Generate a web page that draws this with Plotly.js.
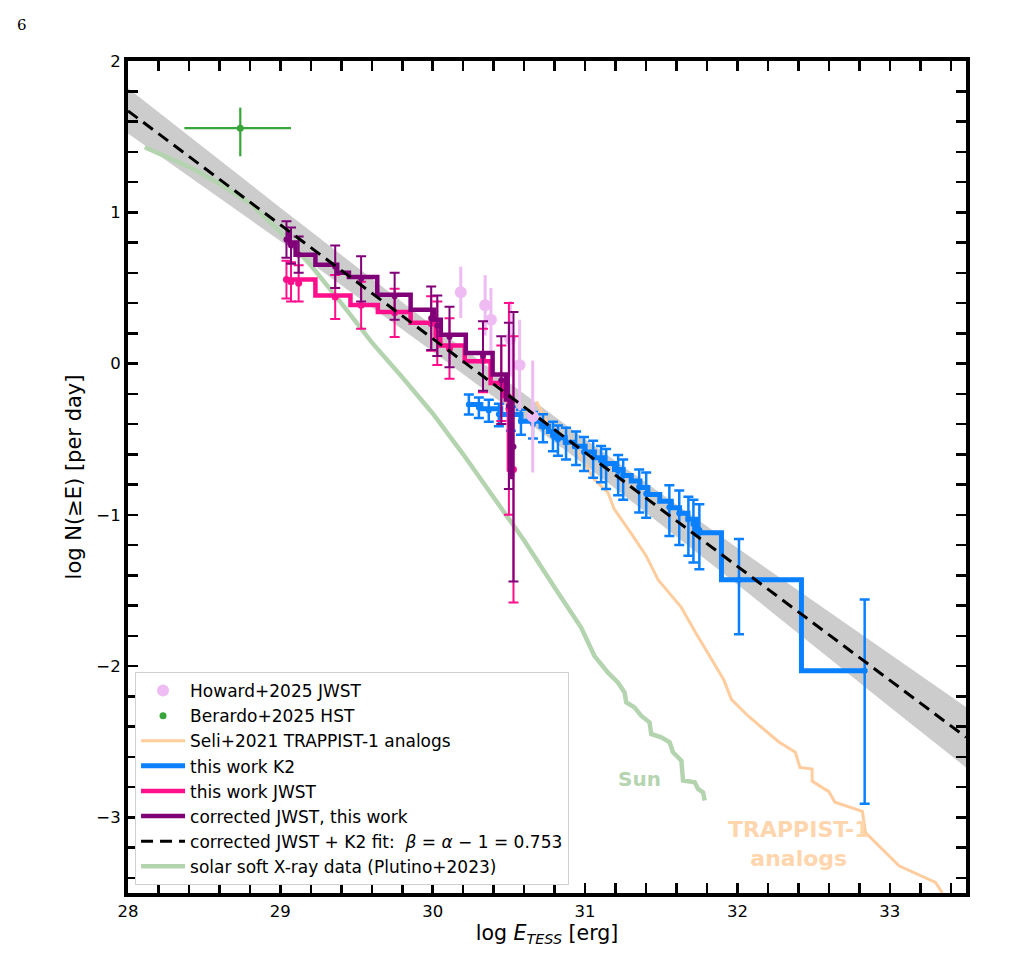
<!DOCTYPE html>
<html>
<head>
<meta charset="utf-8">
<script src="https://cdn.plot.ly/plotly-3.0.1.min.js"></script>
<style>
  html, body { margin: 0; padding: 0; background: #ffffff; }
  #chart { width: 1011px; height: 977px; }
</style>
</head>
<body>
<div id="chart"></div>
<script>
// ---------------- data ----------------
// fit band (corrected JWST + K2 fit uncertainty)
const band_x  = [28, 29, 30, 31, 32, 33, 33.5];
const band_hi = [1.82, 1.03, 0.25, -0.50, -1.22, -1.92, -2.27];
const band_lo = [1.52, 0.81, 0.08, -0.67, -1.46, -2.27, -2.67];

// fit line
const fit_x = [28, 33.5];
const fit_y = [1.67, -2.47];

// solar soft X-ray data (Plutino+2023)
const sun_x = [28.11, 28.25, 28.4, 28.6, 28.8, 29.0, 29.2, 29.4, 29.6, 29.8, 30.0, 30.2, 30.4, 30.6, 30.8,
               30.974, 31.061, 31.149, 31.215, 31.259, 31.27, 31.324, 31.368, 31.423, 31.434, 31.5, 31.555,
               31.577, 31.632, 31.643, 31.72, 31.741, 31.774, 31.785];
const sun_y = [1.43, 1.37, 1.30, 1.19, 1.06, 0.87, 0.65, 0.40, 0.14, -0.09, -0.33, -0.60, -0.88, -1.17, -1.48,
               -1.745, -1.932, -2.042, -2.108, -2.174, -2.24, -2.273, -2.328, -2.372, -2.449, -2.471, -2.504,
               -2.57, -2.625, -2.757, -2.768, -2.812, -2.834, -2.889];

// Seli+2021 TRAPPIST-1 analogs
const seli_x = [30.68, 30.755, 30.93, 31.06, 31.15, 31.18, 31.19, 31.30, 31.40, 31.48, 31.63, 31.72, 31.91, 31.96,
                32.07, 32.27, 32.38, 32.41, 32.49, 32.49, 32.60, 32.64, 32.82, 32.84, 33.06, 33.30, 33.345];
const seli_y = [-0.25, -0.40, -0.546, -0.766, -0.853, -0.93, -0.96, -1.12, -1.27, -1.43, -1.61, -1.77, -2.09, -2.22,
                -2.33, -2.50, -2.57, -2.67, -2.68, -2.76, -2.83, -2.90, -2.96, -3.10, -3.32, -3.43, -3.5];

// this work K2 (points with asymmetric errors)
const k2_x = [30.237, 30.303, 30.368, 30.434, 30.513, 30.579, 30.658, 30.724, 30.789, 30.822, 30.875, 30.941, 30.993,
              31.053, 31.105, 31.138, 31.217, 31.25, 31.355, 31.401, 31.553, 31.618, 31.678, 31.711, 31.75, 32.01, 32.835];
const k2_y = [-0.27, -0.29, -0.31, -0.335, -0.36, -0.38, -0.40, -0.42, -0.475, -0.50, -0.52, -0.55, -0.585,
              -0.62, -0.645, -0.665, -0.71, -0.74, -0.815, -0.86, -0.95, -0.99, -1.03, -1.06, -1.10, -1.43, -2.03];
const k2_err_plus  = [0.065, 0.065, 0.07, 0.07, 0.075, 0.075, 0.08, 0.085, 0.09, 0.09, 0.095, 0.10, 0.10,
                      0.11, 0.10, 0.10, 0.105, 0.106, 0.115, 0.14, 0.145, 0.15, 0.15, 0.16, 0.17, 0.27, 0.47];
const k2_err_minus = [0.067, 0.07, 0.075, 0.08, 0.085, 0.09, 0.095, 0.10, 0.105, 0.11, 0.115, 0.12, 0.125,
                      0.135, 0.14, 0.165, 0.16, 0.16, 0.17, 0.16, 0.19, 0.21, 0.24, 0.256, 0.26, 0.36, 0.88];
// this work K2 (cumulative step histogram)
const k2_step_x = [30.237, 30.316, 30.447, 30.579, 30.711, 30.76, 30.809, 30.87, 30.93, 31.00, 31.061, 31.13, 31.193,
                   31.25, 31.303, 31.36, 31.412, 31.49, 31.566, 31.62, 31.675, 31.73, 31.895, 32.42, 32.835];
const k2_step_y = [-0.271, -0.299, -0.337, -0.381, -0.414, -0.45, -0.49, -0.52, -0.546, -0.585, -0.622, -0.66, -0.70,
                   -0.74, -0.777, -0.82, -0.865, -0.91, -0.953, -0.99, -1.03, -1.118, -1.43, -2.03, -2.03];

// this work JWST
const jwst_x   = [29.04, 29.07, 29.12, 29.36, 29.53, 29.75, 29.99, 30.03, 30.11, 30.33, 30.45, 30.50, 30.53];
const jwst_y   = [0.555, 0.54, 0.53, 0.44, 0.385, 0.335, 0.265, 0.20, 0.10, 0.02, -0.13, -0.30, -0.70];
const jwst_err = [0.125, 0.13, 0.12, 0.145, 0.155, 0.16, 0.18, 0.21, 0.20, 0.21, 0.25, 0.70, 0.88];
const jwst_step_x = [29.04, 29.23, 29.46, 29.64, 29.855, 30.02, 30.05, 30.21, 30.38, 30.47, 30.50, 30.53];
const jwst_step_y = [0.555, 0.449, 0.387, 0.341, 0.269, 0.18, 0.119, 0.015, -0.128, -0.215, -0.70, -0.70];

// corrected JWST, this work
const jwst_corr_y   = [0.82, 0.78, 0.72, 0.64, 0.56, 0.445, 0.30, 0.25, 0.175, 0.05, -0.11, -0.28, -0.55];
const jwst_corr_err = [0.12, 0.12, 0.12, 0.14, 0.15, 0.155, 0.21, 0.20, 0.20, 0.23, 0.29, 0.55, 0.89];
const jwst_corr_step_x = [29.04, 29.06, 29.10, 29.23, 29.373, 29.45, 29.636, 29.855, 30.009, 30.053, 30.217, 30.393, 30.48, 30.52, 30.53];
const jwst_corr_step_y = [0.86, 0.80, 0.72, 0.653, 0.60, 0.572, 0.455, 0.356, 0.29, 0.191, 0.07, -0.073, -0.238, -0.75, -0.75];

// Howard+2025 JWST
const howard_x   = [30.184, 30.344, 30.382, 30.509, 30.57, 30.656];
const howard_y   = [0.471, 0.385, 0.29, 0.163, -0.01, -0.35];
const howard_err = [0.17, 0.20, 0.21, 0.25, 0.30, 0.37];

// Berardo+2025 HST
const berardo_x = [28.737];
const berardo_y = [1.556];
const berardo_xerr_plus = [0.333], berardo_xerr_minus = [0.367];
const berardo_yerr_plus = [0.136], berardo_yerr_minus = [0.186];

// labels
const legend_names = {
  howard: 'Howard+2025 JWST',
  berardo: 'Berardo+2025 HST',
  seli: 'Seli+2021 TRAPPIST-1 analogs',
  k2: 'this work K2',
  jwst: 'this work JWST',
  corr: 'corrected JWST, this work',
  fit: 'corrected JWST + K2 fit:  <i>β</i> = <i>α</i> − 1 = 0.753',
  sun: 'solar soft X-ray data (Plutino+2023)'
};

// ---------------- colours ----------------
const C_BLUE = '#0a80ff', C_PINK = '#ff0f8c', C_PURPLE = '#800078', C_HOWARD = '#eebcf2',
      C_GREEN = '#38a53a', C_SELI = '#ffcc9e', C_SUN = '#b4d4b0', C_BAND = '#cccccc';

const FONT = 'DejaVu Sans, Verdana, sans-serif';

const traces = [
  { // band
    x: band_x.concat(band_x.slice().reverse()),
    y: band_hi.concat(band_lo.slice().reverse()),
    fill: 'toself', fillcolor: C_BAND, line: {width: 0}, mode: 'lines',
    hoverinfo: 'skip', showlegend: false
  },
  { x: sun_x, y: sun_y, mode: 'lines', line: {color: C_SUN, width: 4.5},
    name: legend_names.sun, legendgroup: 'sun', legendrank: 8 },
  { x: seli_x, y: seli_y, mode: 'lines', line: {color: C_SELI, width: 3},
    name: legend_names.seli, legendgroup: 'seli', legendrank: 3 },
  { x: k2_x, y: k2_y, mode: 'markers', marker: {color: C_BLUE, size: 6},
    error_y: {type: 'data', symmetric: false, array: k2_err_plus, arrayminus: k2_err_minus,
              color: C_BLUE, thickness: 2.5, width: 5},
    showlegend: false, legendgroup: 'k2' },
  { x: k2_step_x, y: k2_step_y, mode: 'lines', line: {color: C_BLUE, width: 5, shape: 'hv'},
    name: legend_names.k2, legendgroup: 'k2', legendrank: 4 },
  { x: howard_x, y: howard_y, mode: 'markers', marker: {color: C_HOWARD, size: 12},
    error_y: {type: 'data', array: howard_err, color: C_HOWARD, thickness: 3, width: 0},
    name: legend_names.howard, legendgroup: 'howard', legendrank: 1 },
  { x: jwst_x, y: jwst_y, mode: 'markers', marker: {color: C_PINK, size: 7},
    error_y: {type: 'data', array: jwst_err, color: C_PINK, thickness: 2, width: 5},
    showlegend: false, legendgroup: 'jwst' },
  { x: jwst_step_x, y: jwst_step_y, mode: 'lines', line: {color: C_PINK, width: 4.5, shape: 'hv'},
    name: legend_names.jwst, legendgroup: 'jwst', legendrank: 5 },
  { x: jwst_x, y: jwst_corr_y, mode: 'markers', marker: {color: C_PURPLE, size: 6},
    error_y: {type: 'data', array: jwst_corr_err, color: C_PURPLE, thickness: 2, width: 5},
    showlegend: false, legendgroup: 'corr' },
  { x: jwst_corr_step_x, y: jwst_corr_step_y, mode: 'lines', line: {color: C_PURPLE, width: 4.5, shape: 'hv'},
    name: legend_names.corr, legendgroup: 'corr', legendrank: 6 },
  { x: berardo_x, y: berardo_y, mode: 'markers', marker: {color: C_GREEN, size: 7},
    error_x: {type: 'data', symmetric: false, array: berardo_xerr_plus, arrayminus: berardo_xerr_minus,
              color: C_GREEN, thickness: 2.2, width: 0},
    error_y: {type: 'data', symmetric: false, array: berardo_yerr_plus, arrayminus: berardo_yerr_minus,
              color: C_GREEN, thickness: 2.2, width: 0},
    name: legend_names.berardo, legendgroup: 'berardo', legendrank: 2 },
  { x: fit_x, y: fit_y, mode: 'lines', line: {color: '#000000', width: 3, dash: '12px,7px'},
    name: legend_names.fit, legendgroup: 'fit', legendrank: 7 }
];

const axisCommon = {
  showgrid: false, zeroline: false,
  showline: true, linecolor: '#000000', linewidth: 4, mirror: 'allticks',
  ticks: 'inside', ticklen: 10, tickwidth: 2.5, tickcolor: '#000000',
  tickfont: {family: FONT, size: 16.5, color: '#000000'},
  minor: {dtick: 0.2, tick0: 0, ticks: 'inside', ticklen: 10, tickwidth: 2.5, tickcolor: '#000000', showgrid: false}
};

const layout = {
  width: 1011, height: 977,
  margin: {l: 128, r: 45, t: 61, b: 84},
  paper_bgcolor: '#ffffff', plot_bgcolor: '#ffffff',
  font: {family: FONT, color: '#000000'},
  xaxis: Object.assign({}, axisCommon, {
    range: [28, 33.5], dtick: 1, tick0: 28,
    title: {text: 'log <i>E</i><sub><i>TESS</i></sub> [erg]', font: {family: FONT, size: 20.5, color: '#000'}, standoff: 4}
  }),
  yaxis: Object.assign({}, axisCommon, {
    range: [-3.5, 2], dtick: 1, tick0: 0,
    title: {text: 'log N(≥E) [per day]', font: {family: FONT, size: 21, color: '#000'}, standoff: 10}
  }),
  showlegend: true,
  legend: {
    x: 0.0084, y: 0.0096, xanchor: 'left', yanchor: 'bottom',
    bgcolor: '#ffffff', bordercolor: '#d0d0d0', borderwidth: 1,
    font: {family: FONT, size: 17, color: '#000000'},
    traceorder: 'grouped', tracegroupgap: 0, itemwidth: 44
  },
  annotations: [
    {x: 31.355, y: -2.746, xref: 'x', yref: 'y', text: '<b>Sun</b>', showarrow: false,
     font: {family: FONT, size: 20, color: '#b5d5b1'}},
    {x: 32.40, y: -3.175, xref: 'x', yref: 'y', text: '<b>TRAPPIST-1</b><br><b>analogs</b>', showarrow: false,
     font: {family: FONT, size: 22, color: '#ffd5ad'}},
    {x: -0.135, y: 1.0565, xref: 'paper', yref: 'paper', text: '6', showarrow: false,
     font: {family: 'DejaVu Serif, serif', size: 15, color: '#000000'}}
  ]
};

Plotly.newPlot('chart', traces, layout, {displayModeBar: false, staticPlot: true});
</script>
</body>
</html>
